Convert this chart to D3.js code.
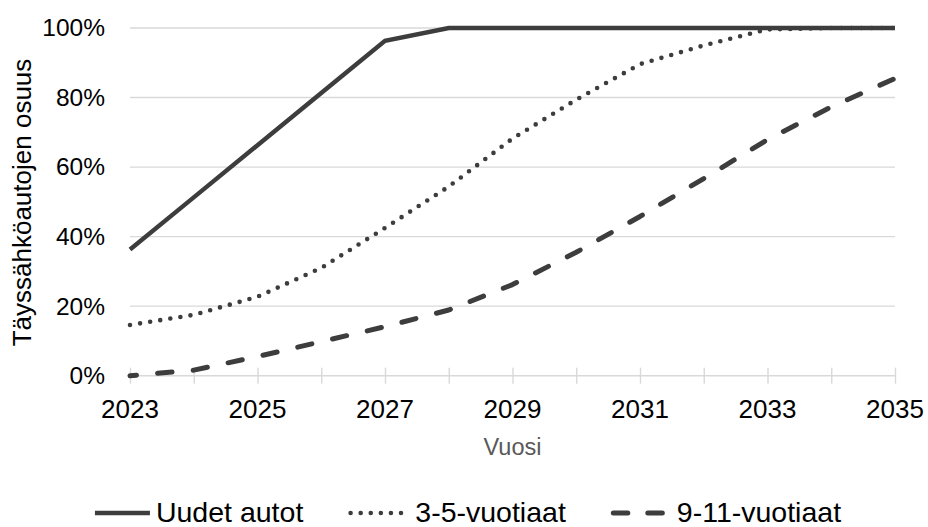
<!DOCTYPE html>
<html>
<head>
<meta charset="utf-8">
<script src="https://cdn.jsdelivr.net/npm/d3@7"></script>
<style>
  html, body { margin: 0; padding: 0; background: #fff; }
  svg { display: block; font-family: "Liberation Sans", Arial, sans-serif; }
</style>
</head>
<body>
<svg id="chart" width="928" height="527"></svg>
<script>
// ---- data ----
const years = [2023, 2024, 2025, 2026, 2027, 2028, 2029, 2030, 2031, 2032, 2033, 2034, 2035];
const uudetAutot = [0.363, 0.513, 0.663, 0.813, 0.963, 1, 1, 1, 1, 1, 1, 1, 1];
const vuotiaat35 = [0.146, 0.175, 0.227, 0.31, 0.425, 0.544, 0.682, 0.794, 0.896, 0.95, 0.996, 1, 1];
const vuotiaat911 = [0, 0.016, 0.055, 0.098, 0.141, 0.189, 0.262, 0.355, 0.458, 0.567, 0.679, 0.773, 0.855];
const seriesNames = ["Uudet autot", "3-5-vuotiaat", "9-11-vuotiaat"];
const yTicks = [0, 0.2, 0.4, 0.6, 0.8, 1.0];
const xLabelYears = [2023, 2025, 2027, 2029, 2031, 2033, 2035];
const xTitle = "Vuosi";
const yTitle = "Täyssähköautojen osuus";

(function () {
// ---- layout ----
const svg = d3.select("#chart");
const mLeft = 130, mRight = 895, mTop = 28, mBottom = 375.7;
const x = d3.scaleLinear().domain([2023, 2035]).range([mLeft, mRight]);
const y = d3.scaleLinear().domain([0, 1]).range([mBottom, mTop]);
const lineColor = "#3d3d3d";
const gridColor = "#d9d9d9";

// gridlines
svg.append("g").selectAll("line").data(yTicks.filter(d => d > 0)).join("line")
  .attr("x1", mLeft).attr("x2", mRight)
  .attr("y1", d => y(d)).attr("y2", d => y(d))
  .attr("stroke", gridColor).attr("stroke-width", 1.4);

// y axis labels (no line, no ticks)
const yAxis = d3.axisLeft(y).tickValues(yTicks).tickFormat(d3.format(".0%")).tickSize(0).tickPadding(25);
const gy = svg.append("g").attr("transform", `translate(${mLeft},0)`).call(yAxis);
gy.select(".domain").remove();
gy.selectAll("text").attr("font-size", 24.5).attr("fill", "#000").attr("font-family", "Liberation Sans, Arial, sans-serif");

// x axis: baseline with crossing ticks
const xAxis = d3.axisBottom(x).tickValues(years).tickSize(8).tickFormat("");
const gx = svg.append("g").attr("transform", `translate(0,${mBottom})`).call(xAxis);
gx.select(".domain").attr("stroke", gridColor).attr("stroke-width", 1.4).attr("d", `M${mLeft},0H${mRight}`);
gx.selectAll(".tick line").attr("stroke", gridColor).attr("stroke-width", 1.4).attr("y1", -8).attr("y2", 8);

svg.append("g").selectAll("text").data(xLabelYears).join("text")
  .attr("x", d => x(d)).attr("y", 418)
  .attr("text-anchor", "middle")
  .attr("font-size", 26).attr("fill", "#000")
  .text(d => d);

// axis titles
svg.append("text")
  .attr("x", (mLeft + mRight) / 2).attr("y", 455)
  .attr("text-anchor", "middle").attr("font-size", 23.5).attr("fill", "#595959")
  .text(xTitle);

svg.append("text")
  .attr("transform", `translate(31,${202.5}) rotate(-90)`)
  .attr("text-anchor", "middle").attr("font-size", 26).attr("fill", "#000")
  .text(yTitle);

// lines
const lineLin = d3.line().x((d, i) => x(years[i])).y(d => y(d));

const styles = [
  { dash: null, width: 4.4, cap: "butt" },
  { dash: "0 10.2", width: 4.6, cap: "round" },
  { dash: "14.5 21.2", width: 5, cap: "round" }
];

svg.append("path").datum(vuotiaat911)
  .attr("d", lineLin).attr("fill", "none").attr("stroke", lineColor)
  .attr("stroke-width", styles[2].width).attr("stroke-linecap", styles[2].cap)
  .attr("stroke-linejoin", "round")
  .attr("stroke-dasharray", styles[2].dash).attr("stroke-dashoffset", 8);

svg.append("path").datum(vuotiaat35)
  .attr("d", lineLin).attr("fill", "none").attr("stroke", lineColor)
  .attr("stroke-width", styles[1].width).attr("stroke-linecap", styles[1].cap)
  .attr("stroke-linejoin", "round")
  .attr("stroke-dasharray", styles[1].dash);

svg.append("path").datum(uudetAutot)
  .attr("d", lineLin).attr("fill", "none").attr("stroke", lineColor)
  .attr("stroke-width", styles[0].width).attr("stroke-linejoin", "miter")
  .attr("stroke-linecap", "butt");

// legend
const legend = svg.append("g");
const symW = 55, legendY = 513, textBase = 522;
const symGap = [6, 12, 11];
const itemGap = 45;
const items = legend.selectAll("g").data(seriesNames).join("g");
items.append("text").attr("class", "lt")
  .attr("font-size", 28.5).attr("fill", "#000").attr("y", textBase)
  .text(d => d);
const widths = [];
items.selectAll("text.lt").each(function () { widths.push(this.getComputedTextLength()); });
let total = 0;
seriesNames.forEach((d, i) => { total += symW + symGap[i] + widths[i] + (i < seriesNames.length - 1 ? itemGap : 0); });
let cx = 468 - total / 2;
items.each(function (d, i) {
  const g = d3.select(this);
  const st = styles[i];
  let x0 = cx, x1 = cx + symW;
  if (i === 1) { x0 += 2.3; x1 -= 2.3; }
  if (i === 2) { x0 += 2.5; x1 -= 2.5; }
  g.insert("line", "text")
    .attr("x1", x0).attr("x2", x1)
    .attr("y1", legendY).attr("y2", legendY)
    .attr("stroke", lineColor).attr("stroke-width", st.width)
    .attr("stroke-linecap", st.cap)
    .attr("stroke-dasharray", i === 1 ? "0 10.08" : (i === 2 ? "14.5 20" : null));
  g.select("text.lt").attr("x", cx + symW + symGap[i]);
  cx += symW + symGap[i] + widths[i] + itemGap;
});
})();
</script>
</body>
</html>
